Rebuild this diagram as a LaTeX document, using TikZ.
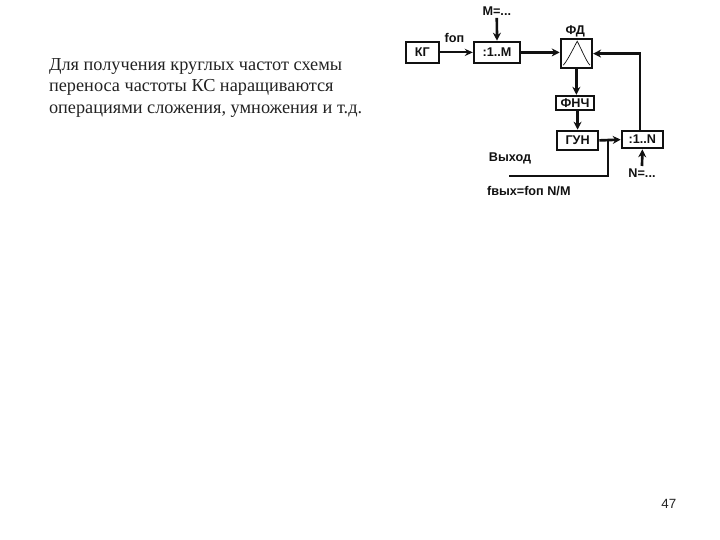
\documentclass[tikz,border=0pt]{standalone}
\usepackage{fontspec}
\setmainfont{Liberation Serif}
\newfontfamily\labelfont{Liberation Sans}
\usetikzlibrary{arrows.meta}
\definecolor{Ink}{HTML}{111111}
\definecolor{BodyInk}{HTML}{222222}
\tikzset{
  blockbox/.style={draw=Ink, line width=1.7pt, fill=white, align=center, inner sep=0pt, font=\labelfont\bfseries\fontsize{9}{10}\selectfont, text=Ink},
  blocklab/.style={font=\labelfont\bfseries\fontsize{9}{10}\selectfont, text=Ink, inner sep=0pt},
  bodytext/.style={font=\fontsize{13}{15.4}\selectfont, text=BodyInk, align=left, inner sep=0pt},
  flowarrow/.style={-{Stealth[length=2mm,width=2mm]}, line width=1.9pt, draw=Ink},
  thinarrow/.style={-{Stealth[length=2mm,width=1.8mm]}, line width=1.3pt, draw=Ink},
  flowline/.style={line width=1.8pt, draw=Ink},
}
\begin{document}
\begin{tikzpicture}
    \useasboundingbox (0,0) rectangle (18,13.5);
    \node[bodytext, anchor=north west] (intro) at (1.22, 12.05) {Для получения круглых частот схемы\\ переноса частоты КС наращиваются\\ операциями сложения, умножения и т.д.};
    % blocks
    \node[blockbox, minimum width=0.825cm, minimum height=0.525cm] (kg) at (10.56, 12.19) {КГ};
    \node[blockbox, minimum width=1.15cm, minimum height=0.525cm] (divm) at (12.425, 12.19) {:1..M};
    \node[blockbox, minimum width=0.775cm, minimum height=0.725cm] (fd) at (14.41, 12.16) {};
    \node[blockbox, minimum width=0.95cm, minimum height=0.35cm] (fnch) at (14.375, 10.925) {ФНЧ};
    \node[blockbox, minimum width=1.025cm, minimum height=0.475cm] (gun) at (14.44, 9.99) {ГУН};
    \node[blockbox, minimum width=1.025cm, minimum height=0.425cm] (divn) at (16.06, 10.01) {:1..N};
    % labels
    \node[blocklab] (mval) at (12.42, 13.22) {M=...};
    \node[blocklab] (nval) at (16.05, 9.18) {N=...};
    \node[blocklab] (fop) at (11.36, 12.55) {fоп};
    \node[blocklab] (fdlab) at (14.38, 12.72) {ФД};
    \node[blocklab] (outlab) at (12.75, 9.55) {Выход};
    \node[blocklab] (foutlab) at (13.22, 8.72) {fвых=fоп N/M};
    \node[font=\labelfont\fontsize{9.5}{11}\selectfont, text=BodyInk, inner sep=0pt] (pagenum) at (16.72, 0.91) {47};
    % filter curve
    \draw[Ink, line width=0.5pt] ([xshift=-0.33cm,yshift=-0.29cm]fd.center) .. controls ([xshift=-0.24cm,yshift=-0.2cm]fd.center) and ([xshift=-0.1cm,yshift=0.08cm]fd.center) .. ([xshift=0.02cm,yshift=0.31cm]fd.center) .. controls ([xshift=0.14cm,yshift=0.08cm]fd.center) and ([xshift=0.25cm,yshift=-0.2cm]fd.center) .. ([xshift=0.34cm,yshift=-0.29cm]fd.center);
    % connectors
    \coordinate (tap) at (15.2, 10.01);
    \coordinate (outend) at (12.72, 9.1);
    \draw[thinarrow] (kg) -- (divm);
    \draw[flowarrow] (mval.south) ++(0,-0.05) -- (divm.north);
    \draw[flowarrow] (divm) -- (divm -| fd.west);
    \draw[flowarrow] (fd.south) -- (fd.south |- fnch.north);
    \draw[flowarrow] (gun.north |- fnch.south) -- (gun.north);
    \draw[flowarrow] (gun.east) -- (divn.west);
    \draw[flowarrow] ([xshift=-0.06cm]divn.north) |- (fd.east);
    \draw[flowarrow] (nval) ++(0,0.17) -- (divn.south);
    \draw[flowline] (tap) |- (outend);
\end{tikzpicture}
\end{document}
